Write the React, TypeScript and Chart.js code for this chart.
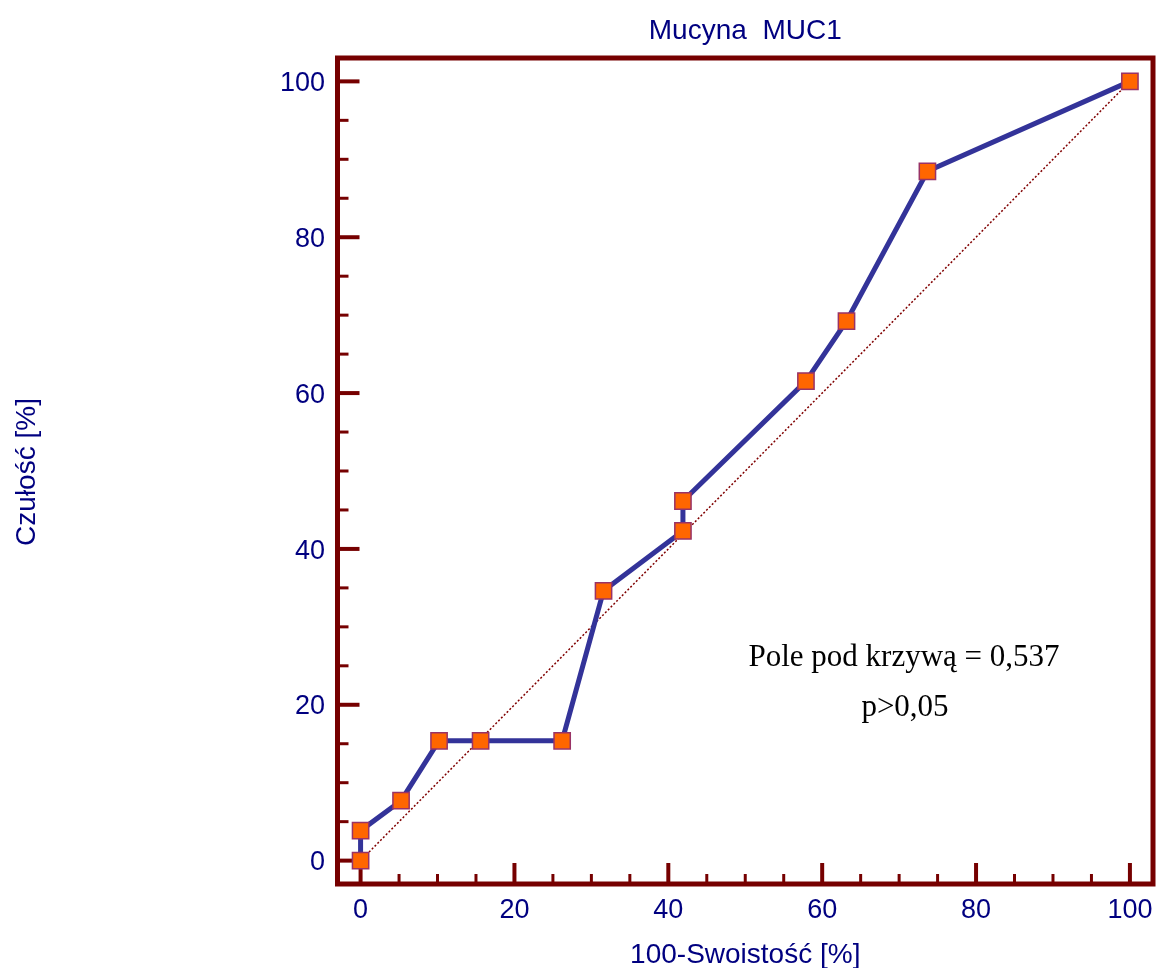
import React, { useEffect, useRef } from "react";
import { Chart, registerables } from "chart.js";

Chart.register(...registerables);

const chartTitle = "Mucyna  MUC1";
const xTitle = "100-Swoistość [%]";
const yTitle = "Czułość [%]";
const annotationLines = ["Pole pod krzywą = 0,537", "p>0,05"];

const specificityComplement = [0, 0, 5.26, 10.2, 15.6, 26.2, 31.58, 41.9, 41.9, 57.89, 63.16, 73.68, 100];
const sensitivity = [0, 3.85, 7.69, 15.38, 15.38, 15.38, 34.62, 42.31, 46.15, 61.54, 69.23, 88.46, 100];
const diagonalX = [0, 100];
const diagonalY = [0, 100];
const majorTicks = [0, 20, 40, 60, 80, 100];
const minorTicks = [0, 5, 10, 15, 20, 25, 30, 35, 40, 45, 50, 55, 60, 65, 70, 75, 80, 85, 90, 95, 100];
const axisMin = -3;
const axisMax = 103;

const FRAME = "#760000";
const NAVY = "#000080";
const SANS = "'Liberation Sans', Arial, sans-serif";

const framePlugin = {
  id: "frame",
  beforeDatasetsDraw(chart: any) {
    const { ctx, chartArea } = chart;
    const xs = chart.scales.x;
    const ys = chart.scales.y;
    ctx.save();
    ctx.strokeStyle = FRAME;
    ctx.lineCap = "butt";
    minorTicks.forEach((v) => {
      const major = majorTicks.includes(v);
      ctx.lineWidth = major ? 4 : 3;
      const py = ys.getPixelForValue(v);
      ctx.beginPath();
      ctx.moveTo(chartArea.left, py);
      ctx.lineTo(chartArea.left + (major ? 22 : 11), py);
      ctx.stroke();
      const px = xs.getPixelForValue(v);
      ctx.beginPath();
      ctx.moveTo(px, chartArea.bottom);
      ctx.lineTo(px, chartArea.bottom - (major ? 21 : 10));
      ctx.stroke();
    });
    ctx.lineWidth = 5;
    ctx.lineJoin = "miter";
    ctx.strokeRect(chartArea.left, chartArea.top, chartArea.right - chartArea.left, chartArea.bottom - chartArea.top);

    // tick labels
    ctx.fillStyle = NAVY;
    ctx.font = `27px ${SANS}`;
    ctx.textBaseline = "alphabetic";
    ctx.textAlign = "right";
    majorTicks.forEach((v) => {
      ctx.fillText(String(v), chartArea.left - 12.5, ys.getPixelForValue(v) + 9.7);
    });
    ctx.textAlign = "center";
    majorTicks.forEach((v) => {
      ctx.fillText(String(v), xs.getPixelForValue(v), chartArea.bottom + 34);
    });
    ctx.restore();
  },
  afterDraw(chart: any) {
    const { ctx, chartArea } = chart;
    const cx = (chartArea.left + chartArea.right) / 2;
    ctx.save();
    ctx.fillStyle = NAVY;
    ctx.font = `28px ${SANS}`;
    ctx.textAlign = "center";
    ctx.textBaseline = "alphabetic";
    ctx.fillText(chartTitle, cx, 39);
    ctx.fillText(xTitle, cx, 963);
    ctx.save();
    ctx.translate(35, 472);
    ctx.rotate(-Math.PI / 2);
    ctx.fillText(yTitle, 0, 0);
    ctx.restore();
    ctx.fillStyle = "#000000";
    ctx.font = "31px 'Liberation Serif', 'Times New Roman', serif";
    ctx.fillText(annotationLines[0], 904, 666);
    ctx.fillText(annotationLines[1], 905, 716);
    ctx.restore();
  },
};

export default function App() {
  const ref = useRef<HTMLCanvasElement | null>(null);
  useEffect(() => {
    if (!ref.current) return;
    const chart = new Chart(ref.current, {
      type: "scatter",
      data: {
        datasets: [
          {
            data: specificityComplement.map((x, i) => ({ x, y: sensitivity[i] })),
            showLine: true,
            borderColor: "#333399",
            borderWidth: 5,
            pointStyle: "rect",
            pointRadius: 11.5,
            pointBackgroundColor: "#ff6600",
            pointBorderColor: "#993366",
            pointBorderWidth: 1.5,
            clip: false,
          } as any,
          {
            data: diagonalX.map((x, i) => ({ x, y: diagonalY[i] })),
            showLine: true,
            borderColor: "#800000",
            borderWidth: 1.5,
            borderDash: [2, 2],
            pointRadius: 0,
            clip: false,
          } as any,
        ],
      },
      options: {
        responsive: false,
        animation: false,
        layout: { padding: { left: 0, right: 6, top: 58, bottom: 0 } },
        plugins: { legend: { display: false }, tooltip: { enabled: false }, title: { display: false } },
        scales: {
          x: {
            type: "linear",
            min: axisMin,
            max: axisMax,
            afterFit: (s: any) => {
              s.height = 84;
            },
            grid: { display: false, drawTicks: false },
            border: { display: false },
            ticks: { display: false },
          },
          y: {
            type: "linear",
            min: axisMin,
            max: axisMax,
            afterFit: (s: any) => {
              s.width = 337.5;
            },
            grid: { display: false, drawTicks: false },
            border: { display: false },
            ticks: { display: false },
          },
        },
      } as any,
      plugins: [framePlugin],
    });
    return () => chart.destroy();
  }, []);
  return (
    <div style={{ position: "absolute", left: 0, top: 0, width: 1166, height: 968, background: "#fff" }}>
      <canvas ref={ref} width={1166} height={968} style={{ display: "block", width: 1166, height: 968 }} />
    </div>
  );
}
